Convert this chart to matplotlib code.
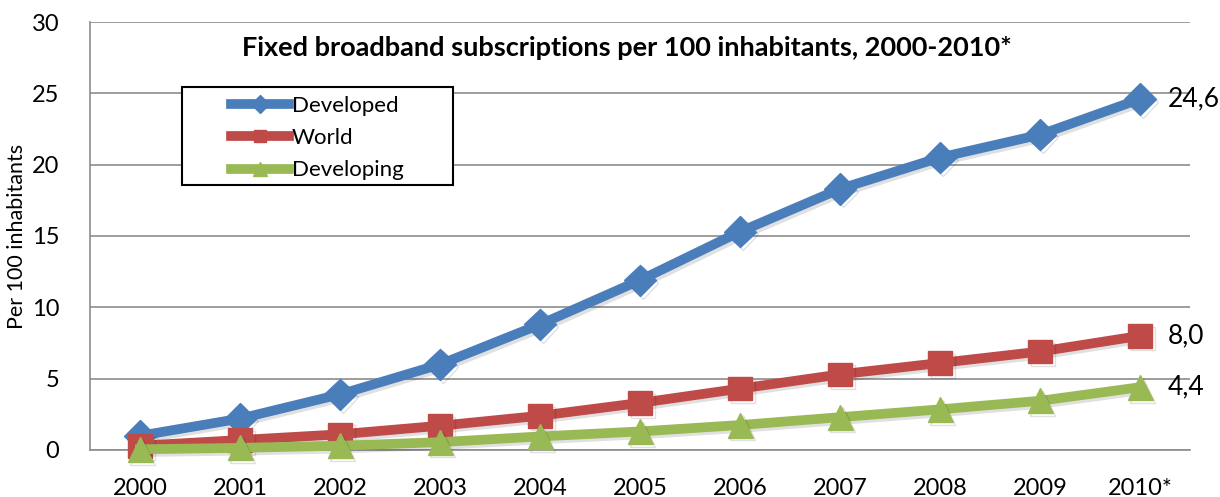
import matplotlib.pyplot as plt
import matplotlib.patheffects as pe
from matplotlib.patches import Rectangle

# data
years = ['2000', '2001', '2002', '2003', '2004', '2005',
         '2006', '2007', '2008', '2009', '2010*']
developed = [1.0, 2.2, 3.9, 6.0, 8.8, 11.9, 15.3, 18.3, 20.5, 22.1, 24.6]
world = [0.3, 0.7, 1.1, 1.7, 2.4, 3.3, 4.3, 5.3, 6.1, 6.9, 8.0]
developing = [0.05, 0.15, 0.3, 0.55, 0.95, 1.3, 1.75, 2.3, 2.85, 3.45, 4.4]
end_labels = ['24,6', '8,0', '4,4']

plt.rcParams['font.family'] = ['Lato', 'DejaVu Sans']

fig = plt.figure(figsize=(12.2, 4.97), dpi=100)
ax = fig.add_axes([90/1220, 47/497, 1100/1220, 428/497])

x = list(range(len(years)))
shadow = [pe.SimpleLineShadow(offset=(2, -2), alpha=0.12), pe.Normal()]

series = [
    ('Developed', developed, '#4A7EBB', 'D', 16),
    ('World', world, '#BE4B48', 's', 17),
    ('Developing', developing, '#98B954', '^', 18),
]
for name, vals, col, mk, ms in series:
    ax.plot(x, vals, color=col, lw=7, marker=mk, ms=ms, label=name,
            path_effects=shadow, zorder=3, clip_on=False)

for vals, lab in zip([developed, world, developing], end_labels):
    ax.text(x[-1] + 0.28, vals[-1], lab, fontsize=19, va='center', ha='left')

ax.set_xlim(-0.5, 10.5)
ax.set_ylim(0, 30)
ax.set_yticks(range(0, 31, 5))
ax.set_xticks(x)
ax.set_xticklabels(years)
ax.tick_params(axis='both', length=0, labelsize=17)
ax.tick_params(axis='x', pad=20)
ax.tick_params(axis='y', pad=22)
ax.grid(axis='y', color='#8c8c8c', lw=1.2)
ax.set_axisbelow(True)
for s in ['top', 'right']:
    ax.spines[s].set_visible(False)
for s in ['left', 'bottom']:
    ax.spines[s].set_color('#8c8c8c')
    ax.spines[s].set_linewidth(1.2)

ax.set_ylabel('Per 100 inhabitants', fontsize=15.5)
ax.yaxis.set_label_coords(-0.0573, 0.5)
ax.text(0.488, 0.94, 'Fixed broadband subscriptions per 100 inhabitants, 2000-2010*',
        transform=ax.transAxes, ha='center', va='center',
        fontsize=19.5, fontweight='bold')

# legend box is bigger than its content, as in the original
ax.add_patch(Rectangle((92/1100, (450-185)/428), 271/1100, 98/428,
                       transform=ax.transAxes, facecolor='white',
                       edgecolor='black', lw=1.5, zorder=4))
leg = ax.legend(loc='upper left', bbox_to_anchor=(141/1100, (450-96)/428),
                borderaxespad=0, frameon=False, fontsize=16,
                handlelength=2.6, handletextpad=0.13, labelspacing=0.55,
                borderpad=0, markerscale=0.55)
leg.set_zorder(5)
for h in leg.get_lines():
    h.set_path_effects([])

fig.savefig('out.png', dpi=100)
